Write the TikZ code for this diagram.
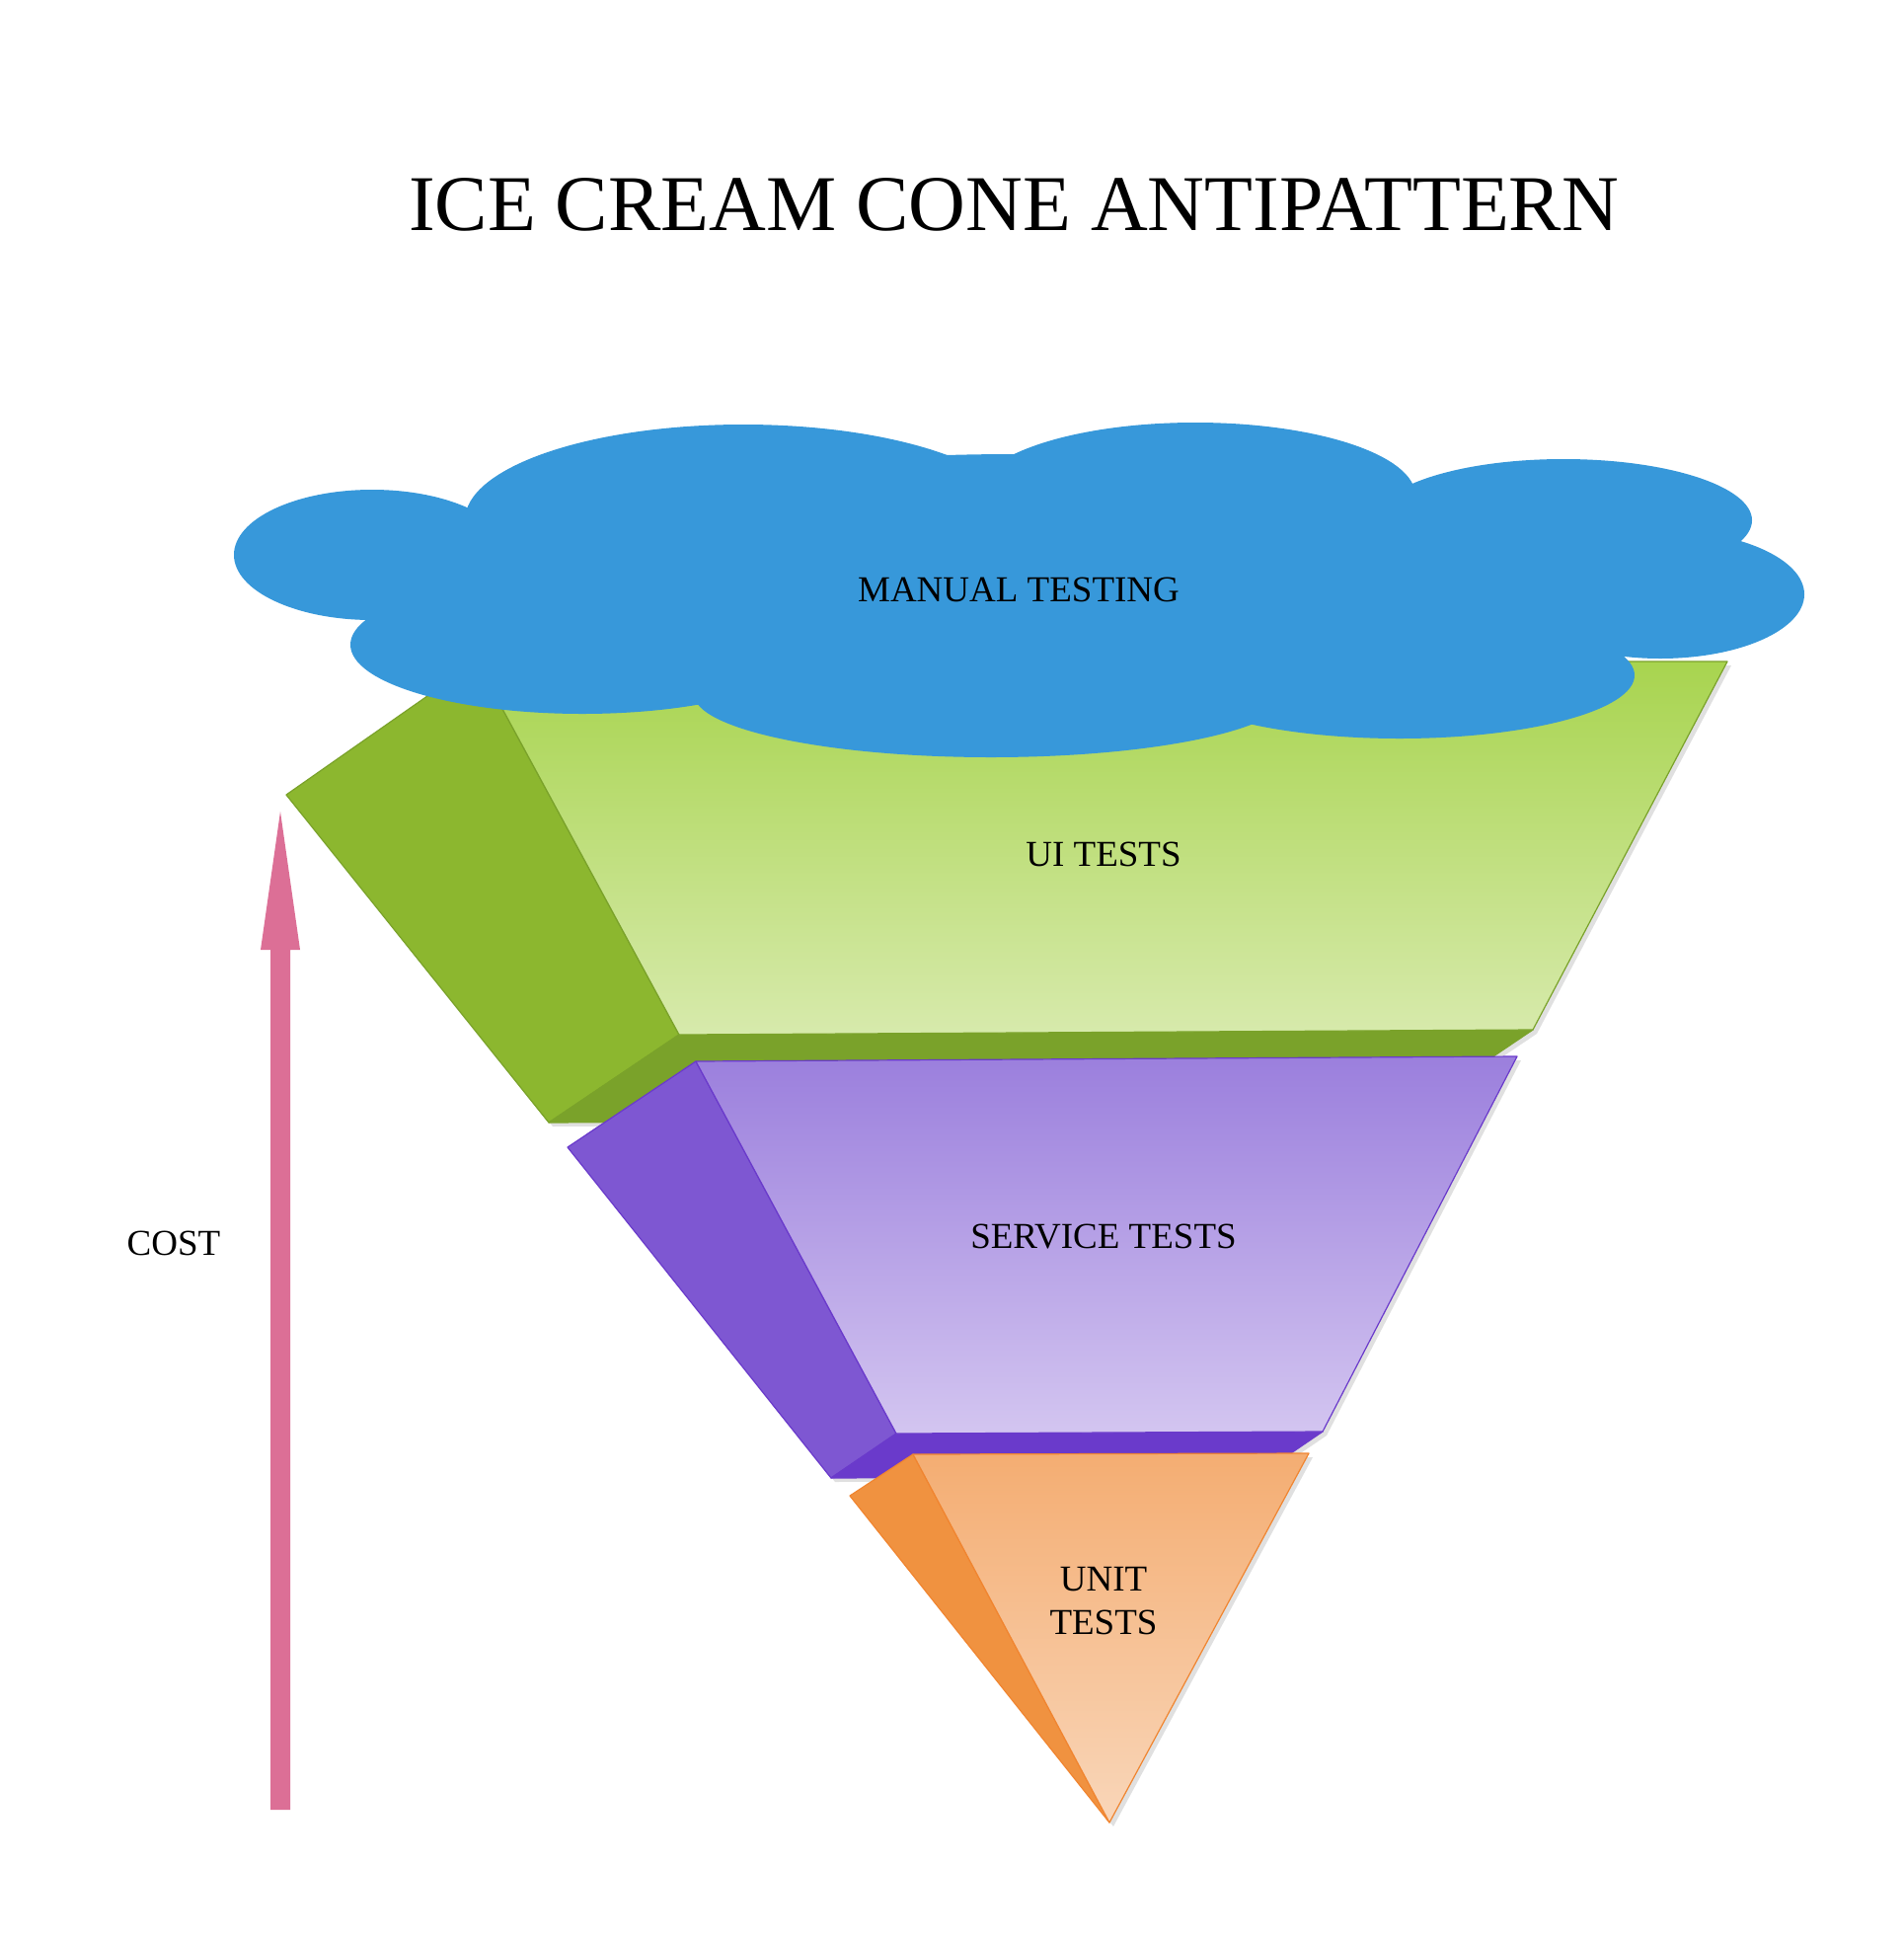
\documentclass[tikz,border=0pt]{standalone}
\usepackage{fontspec}
\setmainfont{Liberation Serif}
\usetikzlibrary{calc}
\definecolor{gside}{HTML}{8CB72F}
\definecolor{gbot}{HTML}{7AA22A}
\definecolor{gtop}{HTML}{A8D44F}
\definecolor{glow}{HTML}{D7EAAC}
\definecolor{pside}{HTML}{7E57D2}
\definecolor{pbot}{HTML}{6A3ACB}
\definecolor{ptop}{HTML}{9B7FDD}
\definecolor{plow}{HTML}{D3C5F0}
\definecolor{oside}{HTML}{F09240}
\definecolor{oedge}{HTML}{F08530}
\definecolor{otop}{HTML}{F4AD72}
\definecolor{olow}{HTML}{F9D6B9}
\definecolor{cloudblue}{HTML}{3798DA}
\definecolor{costpink}{HTML}{DC6F96}
\tikzset{
  lbl/.style={font=\fontsize{37}{44}\selectfont, align=center, text=black},
  shadowfill/.style={fill=black, opacity=0.12},
  cloudpart/.style={fill=cloudblue, draw=none}
}
\begin{document}
\begin{tikzpicture}[x=1pt,y=-1pt]
\useasboundingbox (0,0) rectangle (1928,1968);
\fill[white] (0,0) rectangle (1928,1968);
% ---------- title ----------
\node[font=\fontsize{80}{92}\selectfont] (title) at (1027,207) {ICE CREAM CONE ANTIPATTERN};
% ---------- green block (UI tests) ----------
\coordinate (g1) at (290,805);
\coordinate (g2) at (483,670);
\coordinate (g3) at (1750,670);
\coordinate (g4) at (1553,1043);
\coordinate (g5) at (688,1048);
\coordinate (g6) at (556,1137);
\coordinate (g7) at (1421,1132);
\fill[shadowfill] ($(g1)+(4,4)$) -- ($(g2)+(4,4)$) -- ($(g3)+(4,4)$) -- ($(g4)+(4,4)$) -- ($(g7)+(4,4)$) -- ($(g6)+(4,4)$) -- cycle;
\filldraw[fill=gside, draw=gbot, line width=1.2pt, line join=round] (g1) -- (g2) -- (g5) -- (g6) -- cycle;
\filldraw[fill=gbot, draw=gbot, line width=1.2pt, line join=round] (g5) -- (g4) -- (g7) -- (g6) -- cycle;
\shade[top color=gtop, bottom color=glow, draw=gbot, line width=1.2pt, line join=round] (g2) -- (g3) -- (g4) -- (g5) -- cycle;
% ---------- purple block (service tests) ----------
\coordinate (p1) at (575,1162);
\coordinate (p2) at (705,1075);
\coordinate (p3) at (1537,1070);
\coordinate (p4) at (1340,1450);
\coordinate (p5) at (908,1452);
\coordinate (p6) at (842,1497);
\coordinate (p7) at (1274,1495);
\fill[shadowfill] ($(p1)+(4,4)$) -- ($(p2)+(4,4)$) -- ($(p3)+(4,4)$) -- ($(p4)+(4,4)$) -- ($(p7)+(4,4)$) -- ($(p6)+(4,4)$) -- cycle;
\filldraw[fill=pside, draw=pbot, line width=1.2pt, line join=round] (p1) -- (p2) -- (p5) -- (p6) -- cycle;
\filldraw[fill=pbot, draw=pbot, line width=1.2pt, line join=round] (p5) -- (p4) -- (p7) -- (p6) -- cycle;
\shade[top color=ptop, bottom color=plow, draw=pbot, line width=1.2pt, line join=round] (p2) -- (p3) -- (p4) -- (p5) -- cycle;
% ---------- orange block (unit tests) ----------
\coordinate (o1) at (861,1515);
\coordinate (o2) at (925,1473);
\coordinate (o3) at (1326,1472);
\coordinate (o4) at (1124,1846);
\fill[shadowfill] ($(o1)+(4,4)$) -- ($(o2)+(4,4)$) -- ($(o3)+(4,4)$) -- ($(o4)+(4,4)$) -- cycle;
\filldraw[fill=oside, draw=oedge, line width=1.2pt, line join=round] (o1) -- (o2) -- (o4) -- cycle;
\shade[top color=otop, bottom color=olow, draw=oedge, line width=1.2pt, line join=round] (o2) -- (o3) -- (o4) -- cycle;
% ---------- cloud (manual testing) ----------
\fill[cloudpart] (377,562) ellipse [x radius=140, y radius=66];
\fill[cloudpart] (753,527) ellipse [x radius=282, y radius=97];
\fill[cloudpart] (1211,502) ellipse [x radius=223, y radius=74];
\fill[cloudpart] (1584,527) ellipse [x radius=191, y radius=62];
\fill[cloudpart] (1682,602) ellipse [x radius=146, y radius=65];
\fill[cloudpart] (1418,684) ellipse [x radius=238, y radius=64];
\fill[cloudpart] (1004,703) ellipse [x radius=301, y radius=64];
\fill[cloudpart] (590,653) ellipse [x radius=235, y radius=70];
\fill[cloudpart] (1029,590) ellipse [x radius=565, y radius=130];
% ---------- labels ----------
\node[lbl] (manual) at (1032,597) {MANUAL TESTING};
\node[lbl] (ui) at (1118,865) {UI TESTS};
\node[lbl] (service) at (1118,1253) {SERVICE TESTS};
\node[lbl] (unit) at (1118,1622) {UNIT\\TESTS};
\node[lbl] (cost) at (176,1259) {COST};
% ---------- cost arrow ----------
\coordinate (costbot) at (284,1833);
\coordinate (costtop) at (284,822);
\fill[costpink] ($(costbot)+(-10,0)$) -- ($(costtop)+(-10,140)$) -- ($(costtop)+(-20,140)$)
  -- (costtop) -- ($(costtop)+(20,140)$) -- ($(costtop)+(10,140)$) -- ($(costbot)+(10,0)$) -- cycle;
\end{tikzpicture}
\end{document}
